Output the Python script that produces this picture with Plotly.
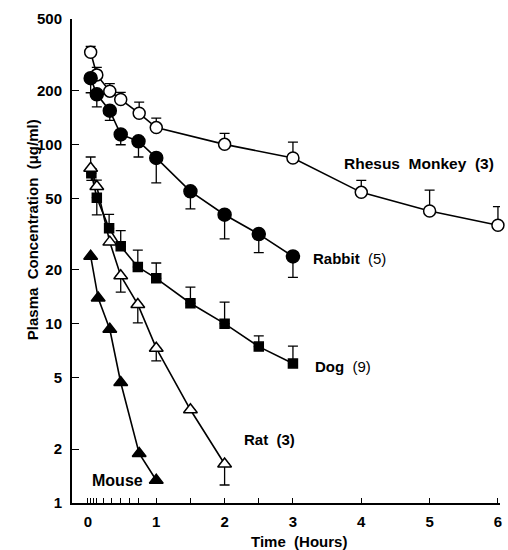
import plotly.graph_objects as go

# ---- data ----
rhesus_t = [0.04, 0.13, 0.32, 0.48, 0.75, 1.0, 2.0, 3.0, 4.0, 5.0, 6.0]
rhesus_c = [326, 244, 198, 178, 149, 124, 100, 84, 54, 42.5, 35.4]
rhesus_up = [26, 25, 20, 17, 23, 16, 15, 19, 9, 13, 9.5]
rhesus_dn = [0, 0, 0, 0, 0, 0, 0, 0, 0, 0, 0]

rabbit_t = [0.04, 0.13, 0.32, 0.48, 0.74, 1.0, 1.5, 2.0, 2.5, 3.0]
rabbit_c = [234, 190, 154, 113.5, 104, 84, 54.7, 40.5, 31.6, 23.7]
rabbit_up = [0, 0, 0, 0, 0, 0, 0, 0, 0, 0]
rabbit_dn = [40, 28, 18, 14, 19, 23, 11, 10.8, 6.7, 5.6]

dog_t = [0.05, 0.13, 0.31, 0.48, 0.73, 1.0, 1.5, 2.0, 2.5, 3.0]
dog_c = [69, 50.4, 34, 27, 20.7, 17.9, 13.0, 10.0, 7.45, 6.0]
dog_up = [0, 0, 6.7, 6, 5, 3.9, 3, 3.2, 1.1, 1.5]
dog_dn = [6, 10, 0, 0, 0, 0, 0, 0, 0, 0]

rat_t = [0.04, 0.13, 0.32, 0.48, 0.73, 1.0, 1.5, 2.0]
rat_c = [73.5, 58.2, 28.5, 18.5, 12.8, 7.3, 3.31, 1.65]
rat_up = [11.5, 5, 0, 0, 0, 0, 0, 0]
rat_dn = [0, 0, 0, 3.5, 2.7, 1.1, 0, 0.39]

mouse_t = [0.04, 0.15, 0.32, 0.48, 0.75, 1.0]
mouse_c = [23.8, 13.9, 9.3, 4.7, 1.89, 1.34]

x_tickvals = [0, 0.044, 0.087, 0.126, 0.228, 0.345, 0.476, 0.61, 0.74, 1, 1.5, 2, 2.5, 3, 4, 5, 6]
x_ticktext = ["0", "", "", "", "", "", "", "", "", "1", "", "2", "", "3", "4", "5", "6"]
y_tickvals = [1, 2, 5, 10, 20, 50, 100, 200, 500]
y_ticktext = ["1", "2", "5", "10", "20", "50", "100", "200", "500"]

FONT = "Liberation Sans, Arial, sans-serif"

fig = go.Figure()


def add_series(t, c, up, dn, symbol, size, fill):
    err = None
    if up is not None:
        err = dict(type="data", symmetric=False, array=up, arrayminus=dn,
                   color="black", thickness=1.3, width=5)
    fig.add_trace(go.Scatter(
        x=t, y=c, mode="lines+markers",
        line=dict(color="black", width=1.6),
        marker=dict(symbol=symbol, size=size, color=fill,
                    line=dict(color="black", width=1.5)),
        error_y=err, cliponaxis=False, showlegend=False))


add_series(rhesus_t, rhesus_c, rhesus_up, rhesus_dn, "circle", 12, "white")
add_series(rabbit_t, rabbit_c, rabbit_up, rabbit_dn, "circle", 13, "black")
add_series(dog_t, dog_c, dog_up, dog_dn, "square", 9, "black")
add_series(rat_t, rat_c, rat_up, rat_dn, "triangle-up", 12, "white")
add_series(mouse_t, mouse_c, None, None, "triangle-up", 12, "black")

L, R, T, B = 72, 6, 19, 47
W, H = 508, 550
pw, ph = W - L - R, H - T - B


def px(x):
    return (x - L) / pw


def py(y):
    return (H - B - y) / ph


ann = [
    ("<b>Rhesus  Monkey  (3)</b>", 343, 164, 15.5),
    ("<b>Rabbit</b>  (5)", 312, 258, 15),
    ("<b>Dog</b>  (9)", 314, 366, 15),
    ("<b>Rat  (3)</b>", 243, 440, 15),
    ("<b>Mouse</b>", 90, 480, 16),
]
for text, x, y, s in ann:
    fig.add_annotation(text=text, xref="paper", yref="paper", x=px(x), y=py(y),
                       xanchor="left", yanchor="middle", showarrow=False,
                       font=dict(family=FONT, size=s, color="black"))

fig.add_annotation(text="<b>Plasma  Concentration  (μg/ml)</b>", xref="paper", yref="paper",
                   x=px(32), y=py(230), textangle=-90, showarrow=False,
                   xanchor="center", yanchor="middle",
                   font=dict(family=FONT, size=15, color="black"))
fig.add_annotation(text="<b>Time  (Hours)</b>", xref="paper", yref="paper",
                   x=px(300), y=py(541), showarrow=False,
                   xanchor="center", yanchor="middle",
                   font=dict(family=FONT, size=15, color="black"))

fig.update_layout(
    width=W, height=H,
    margin=dict(l=L, r=R, t=T, b=B),
    paper_bgcolor="white", plot_bgcolor="white",
    font=dict(family=FONT, color="black"),
    xaxis=dict(range=[-0.233, 6.03], tickvals=x_tickvals, ticktext=x_ticktext,
               ticks="inside", ticklen=5, tickwidth=1.3, tickcolor="black",
               showline=True, linecolor="black", linewidth=2, mirror=False,
               showgrid=False, zeroline=False, ticklabelstandoff=4,
               tickfont=dict(family=FONT, size=15, color="black", weight="bold")),
    yaxis=dict(type="log", range=[0, 2.699], tickvals=y_tickvals, ticktext=y_ticktext,
               ticks="inside", ticklen=7, tickwidth=1.3, tickcolor="black",
               showline=True, linecolor="black", linewidth=2, mirror=False,
               showgrid=False, zeroline=False, ticklabelstandoff=5,
               tickfont=dict(family=FONT, size=15, color="black", weight="bold")),
)

fig.write_html("out.html", config={"displayModeBar": False},
               post_script="document.body.style.margin='0';document.body.style.overflow='hidden';")
